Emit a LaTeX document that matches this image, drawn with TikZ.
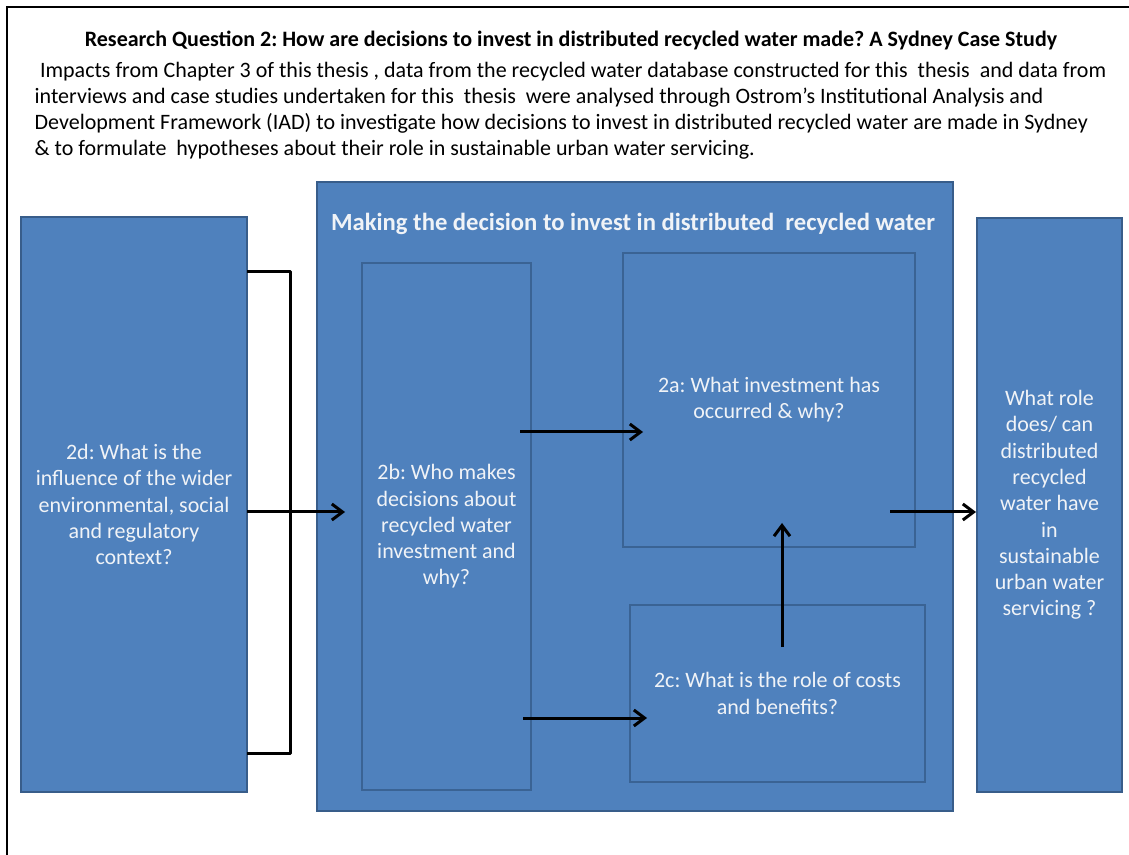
\documentclass[tikz,border=0pt]{standalone}
\usepackage{fontspec}
\setmainfont{Carlito}
\usetikzlibrary{arrows.meta,positioning,calc}

\definecolor{boxblue}{HTML}{4F81BD}
\definecolor{boxedge}{HTML}{385D8A}
\definecolor{inneredge}{HTML}{3A6394}
\definecolor{boxtext}{HTML}{F0F3F7}

\tikzset{
  qbox/.style={draw=boxedge, line width=1.5pt, fill=boxblue, text=boxtext,
    align=center, inner sep=0pt},
  ibox/.style={qbox, draw=inneredge, line width=2pt},
  bracket/.style={line width=2.25pt, line join=round},
  arr/.style={line width=2.25pt, -{Straight Barb[length=8pt,width=12pt]}}
}

\begin{document}
\frenchspacing
\begin{tikzpicture}[x=0.75pt, y=-0.75pt, font=\fontsize{16.5}{19.7}\selectfont]

      \useasboundingbox (0,0) rectangle (1129,855);

      % frame
      \draw[line width=1.5pt] (7,880) -- (7,7) -- (1150,7);

      \node[anchor=base] (title) at (571,47)
        {\bfseries Research Question 2: How are decisions to invest in distributed recycled water made? A Sydney Case Study};
      \node[anchor=base west, align=left] (intro) at (30,156)
        {\hspace*{4pt}Impacts from Chapter 3 of this thesis , data from the recycled water database constructed for this\ \ thesis\ \ and data from\\
         interviews and case studies undertaken for this\ \ thesis\ \ were analysed through Ostrom’s Institutional Analysis and\\
         Development Framework (IAD) to investigate how decisions to invest in distributed recycled water are made in Sydney\\
         \& to formulate\ \ hypotheses about their role in sustainable urban water servicing.};

      \node[qbox, minimum width=477pt, minimum height=471.75pt] (M) at (635,496.5) {};
      \node[anchor=base, text=boxtext, font=\fontsize{18.5}{22}\selectfont\bfseries] (Mtitle) at (633,231)
        {Making the decision to invest in distributed\ \ recycled water};

      \node[qbox, minimum width=169.5pt, minimum height=431.25pt] (d) at (134,504.5)
        {2d: What is the\\influence of the wider\\environmental, social\\and regulatory\\context?};
      \node[ibox, minimum width=126.75pt, minimum height=395.25pt] (b) at (446.5,526.5)
        {2b: Who makes\\decisions about\\recycled water\\investment and\\why?};
      \node[ibox, minimum width=219pt, minimum height=220.5pt] (a) at (769,400)
        {2a: What investment has\\occurred \& why?};
      \node[ibox, minimum width=221.25pt, minimum height=132.75pt] (c) at (777.5,693.5)
        {2c: What is the role of costs\\and benefits?};
      \node[qbox, minimum width=108.75pt, minimum height=430.5pt] (r) at (1049.5,505)
        {What role\\does/ can\\distributed\\recycled\\water have\\in\\sustainable\\urban water\\servicing ?};

      % bracket round 2d
      \coordinate (dtop) at (247,272);
      \coordinate (dbot) at (247,753);
      \draw[bracket] (dtop) -| (290,753) -- (dbot);

      % arrows
      \coordinate (dout) at (247,512);
      \coordinate (bin) at (345,512);
      \coordinate (ba) at (520,432);
      \coordinate (ab) at (643,432);
      \coordinate (bc) at (523,718);
      \coordinate (cb) at (647,718);
      \coordinate (ca) at (782,647);
      \coordinate (ac) at (782,523);
      \coordinate (ar) at (890,512);

      \draw[arr] (dout) -- (bin);
      \draw[arr] (ba) -- (ab);
      \draw[arr] (bc) -- (cb);
      \draw[arr] (ca) -- (ac);
      \draw[arr] (ar) -- (r.west |- ar);
\end{tikzpicture}
\end{document}
